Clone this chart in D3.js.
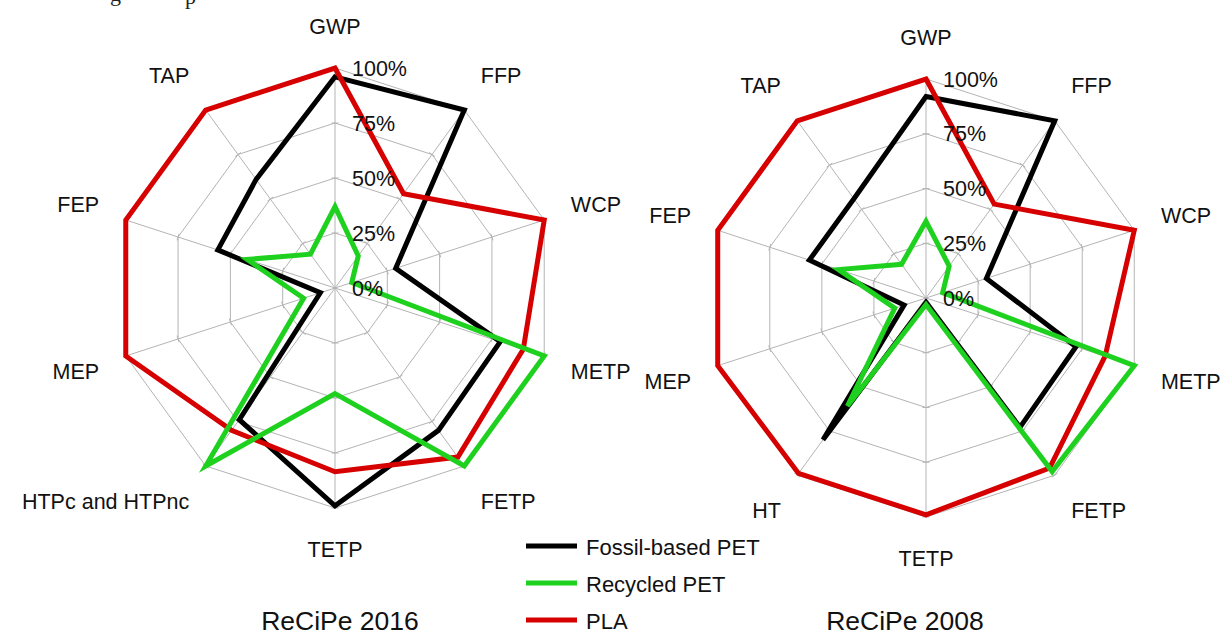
<!DOCTYPE html>
<html>
<head>
<meta charset="utf-8">
<script src="https://cdn.jsdelivr.net/npm/d3@7"></script>
<style>
  body { margin: 0; background: #fff; }
  svg { display: block; font-family: "Liberation Sans", Arial, sans-serif; }
</style>
</head>
<body>
<svg id="chart" width="1223" height="637"></svg>
<script>
// Impact categories (clockwise from the top)
const axes2016 = ["GWP", "FFP", "WCP", "METP", "FETP", "TETP", "HTPc and HTPnc", "MEP", "FEP", "TAP"];
const axes2008 = ["GWP", "FFP", "WCP", "METP", "FETP", "TETP", "HT", "MEP", "FEP", "TAP"];

// Relative impact (share of the highest alternative) per category
const fossil2016   = [0.96, 1.00, 0.29, 0.79, 0.80, 0.99, 0.74, 0.07, 0.56, 0.61];
const recycled2016 = [0.37, 0.18, 0.08, 1.00, 1.00, 0.48, 1.00, 0.15, 0.42, 0.19];
const pla2016      = [1.00, 0.53, 1.00, 0.90, 0.95, 0.835, 0.80, 1.00, 1.00, 1.00];

const fossil2008   = [0.92, 1.00, 0.29, 0.72, 0.73, 0.02, 0.80, 0.105, 0.56, 0.56];
const recycled2008 = [0.35, 0.18, 0.08, 1.00, 0.98, 0.03, 0.61, 0.15, 0.42, 0.19];
const pla2008      = [1.00, 0.53, 1.00, 0.86, 0.96, 0.99, 0.99, 1.00, 1.00, 1.00];

const tickValues = [0, 0.25, 0.5, 0.75, 1];
const tickLabels = ["0%", "25%", "50%", "75%", "100%"];
const seriesNames = ["Fossil-based PET", "Recycled PET", "PLA"];
const titles = ["ReCiPe 2016", "ReCiPe 2008"];

// Styling
const seriesColors = ["#000000", "#1fd11f", "#d60000"];
const drawOrder = [0, 2, 1];
const gridColor = "#b4b4b4";
const textColor = "#111";
const FS = 21.5;
const CAP = 0.716 * FS;

const svg = d3.select("#chart");

// tail of the running text line above the figure
svg.append("g")
  .attr("font-family", "'Liberation Serif', 'Times New Roman', serif")
  .attr("font-size", 22)
  .attr("fill", "#222")
  .selectAll("text")
  .data([{ ch: "g", x: 110, y: 1 }, { ch: "p", x: 185, y: 4 }])
  .join("text")
  .attr("x", d => d.x)
  .attr("y", d => d.y)
  .text(d => d.ch);

const charts = [
  { axes: axes2016, series: [fossil2016, recycled2016, pla2016], title: titles[0],
    cx: 335, cy: 288, R: 220, titleX: 340 },
  { axes: axes2008, series: [fossil2008, recycled2008, pla2008], title: titles[1],
    cx: 926, cy: 298, R: 219, titleX: 905 }
];

charts.forEach(cfg => {
  const n = cfg.axes.length;
  const r = d3.scaleLinear().domain([0, 1]).range([0, cfg.R]);
  const angle = d3.scaleLinear().domain([0, n]).range([0, 2 * Math.PI]);
  const g = svg.append("g").attr("transform", `translate(${cfg.cx},${cfg.cy})`);
  const pt = (a, rad) => [rad * Math.sin(a), -rad * Math.cos(a)];

  // polygon grid rings
  g.selectAll("path.ring")
    .data(tickValues.filter(v => v > 0))
    .join("path")
    .attr("class", "ring")
    .attr("fill", "none")
    .attr("stroke", gridColor)
    .attr("stroke-width", 1)
    .attr("d", v => d3.lineRadial()
      .angle((d, i) => angle(i))
      .radius(() => r(v))
      .curve(d3.curveLinearClosed)(cfg.axes));

  // spokes
  g.selectAll("line.spoke")
    .data(cfg.axes)
    .join("line")
    .attr("class", "spoke")
    .attr("stroke", gridColor)
    .attr("stroke-width", 1)
    .attr("x1", 0).attr("y1", 0)
    .attr("x2", (d, i) => pt(angle(i), r(1))[0])
    .attr("y2", (d, i) => pt(angle(i), r(1))[1]);

  // tick marks across each spoke
  const ticks = [];
  cfg.axes.forEach((d, i) => tickValues.filter(v => v > 0).forEach(v => ticks.push({ i, v })));
  g.selectAll("line.tick")
    .data(ticks)
    .join("line")
    .attr("class", "tick")
    .attr("stroke", gridColor)
    .attr("stroke-width", 1)
    .each(function (d) {
      const a = angle(d.i);
      const [x, y] = pt(a, r(d.v));
      const px = Math.cos(a) * 3.5, py = Math.sin(a) * 3.5;
      d3.select(this).attr("x1", x - px).attr("y1", y - py).attr("x2", x + px).attr("y2", y + py);
    });

  // series polygons
  drawOrder.forEach(k => {
    g.append("path")
      .datum(cfg.series[k])
      .attr("fill", "none")
      .attr("stroke", seriesColors[k])
      .attr("stroke-width", 5)
      .attr("stroke-linejoin", "miter")
      .attr("stroke-miterlimit", 4)
      .attr("d", d3.lineRadial()
        .angle((d, i) => angle(i))
        .radius(d => r(d))
        .curve(d3.curveLinearClosed));
  });

  // value labels along the vertical axis
  g.selectAll("text.val")
    .data(tickValues)
    .join("text")
    .attr("class", "val")
    .attr("x", 17)
    .attr("y", v => -r(v) + CAP / 2)
    .attr("font-size", FS)
    .attr("fill", textColor)
    .text((v, i) => tickLabels[i]);

  // category labels placed just outside the outer ring
  g.selectAll("text.cat")
    .data(cfg.axes)
    .join("text")
    .attr("class", "cat")
    .attr("font-size", FS)
    .attr("fill", textColor)
    .text(d => d)
    .each(function (d, i) {
      const a = angle(i);
      const s = Math.sin(a), c = Math.cos(a);
      const w = this.getComputedTextLength();
      const px = (r(1) + 28) * s;
      const py = -(r(1) + 34) * c;
      const fx = Math.max(-1, Math.min(1, s / 0.5));
      const fy = Math.max(-1, Math.min(1, c / 0.5));
      const centerX = px + fx * w / 2;
      const centerY = py - fy * CAP / 2;
      d3.select(this).attr("x", centerX - w / 2).attr("y", centerY + CAP / 2);
    });

  // chart title
  svg.append("text")
    .attr("x", cfg.titleX)
    .attr("y", 630)
    .attr("text-anchor", "middle")
    .attr("font-size", 26.5)
    .attr("fill", textColor)
    .text(cfg.title);
});

// legend
const legend = svg.append("g").attr("transform", "translate(526,546)");
seriesNames.forEach((name, i) => {
  const row = legend.append("g").attr("transform", `translate(0,${i * 37})`);
  row.append("line")
    .attr("x1", 0).attr("x2", 51).attr("y1", 0).attr("y2", 0)
    .attr("stroke", seriesColors[i]).attr("stroke-width", 5);
  row.append("text")
    .attr("x", 60).attr("y", 9)
    .attr("font-size", 22)
    .attr("fill", textColor)
    .text(name);
});
</script>
</body>
</html>
